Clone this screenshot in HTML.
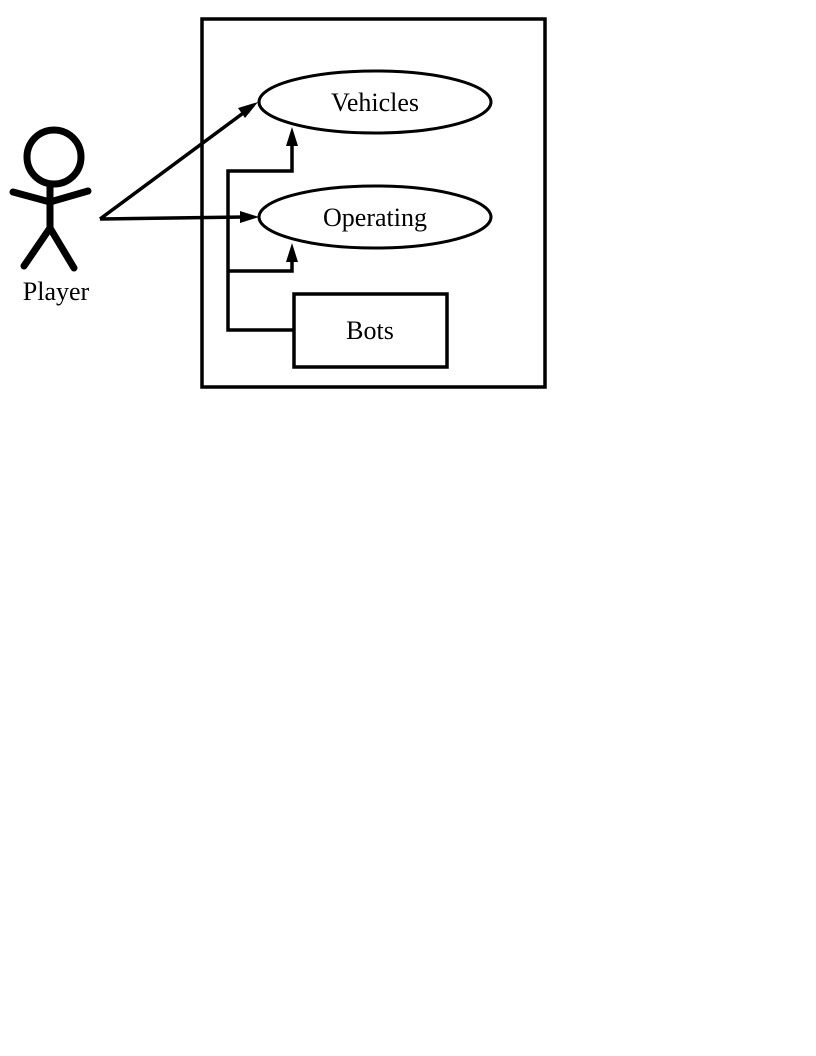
<!DOCTYPE html>
<html><head><style>body{margin:0;background:#fff}svg{display:block}</style></head><body>
<svg width="816" height="1056" viewBox="0 0 816 1056" xmlns="http://www.w3.org/2000/svg">
<rect x="202" y="19" width="343" height="368" fill="none" stroke="#000" stroke-width="3.5"/>
<ellipse cx="375" cy="102" rx="116" ry="31" fill="#fff" stroke="#000" stroke-width="3"/>
<ellipse cx="375" cy="217" rx="116" ry="31" fill="#fff" stroke="#000" stroke-width="3"/>
<rect x="294" y="294" width="153" height="73" fill="#fff" stroke="#000" stroke-width="3.5"/>
<g font-family="Liberation Serif, serif" font-size="26" text-anchor="middle">
<text x="375" y="111">Vehicles</text><text x="375" y="226">Operating</text><text x="370" y="339">Bots</text><text x="56" y="300">Player</text></g>
<g stroke="#000" stroke-width="3.5" fill="none">
<polyline points="294,330 228,330 228,171 292,171 292,144"/>
<polyline points="228,271 292,271 292,260"/>
<line x1="100" y1="219" x2="246" y2="111"/>
<line x1="100" y1="219" x2="244" y2="217"/>
</g>
<g fill="#000">
<polygon points="292,127 286,146 298,146"/>
<polygon points="292,243 286,262 298,262"/>
<polygon points="259,217 240,211 240,223"/>
<polygon points="258,102 238,108 245,118"/>
</g>
<g stroke="#000" stroke-width="7" fill="none" stroke-linecap="round">
<circle cx="54" cy="157" r="27"/>
<line x1="50" y1="186" x2="50" y2="228"/>
<polyline points="13,192 50,202 88,191"/>
<polyline points="24,266 50,228 74,268"/>
</g>
</svg>
</body></html>
